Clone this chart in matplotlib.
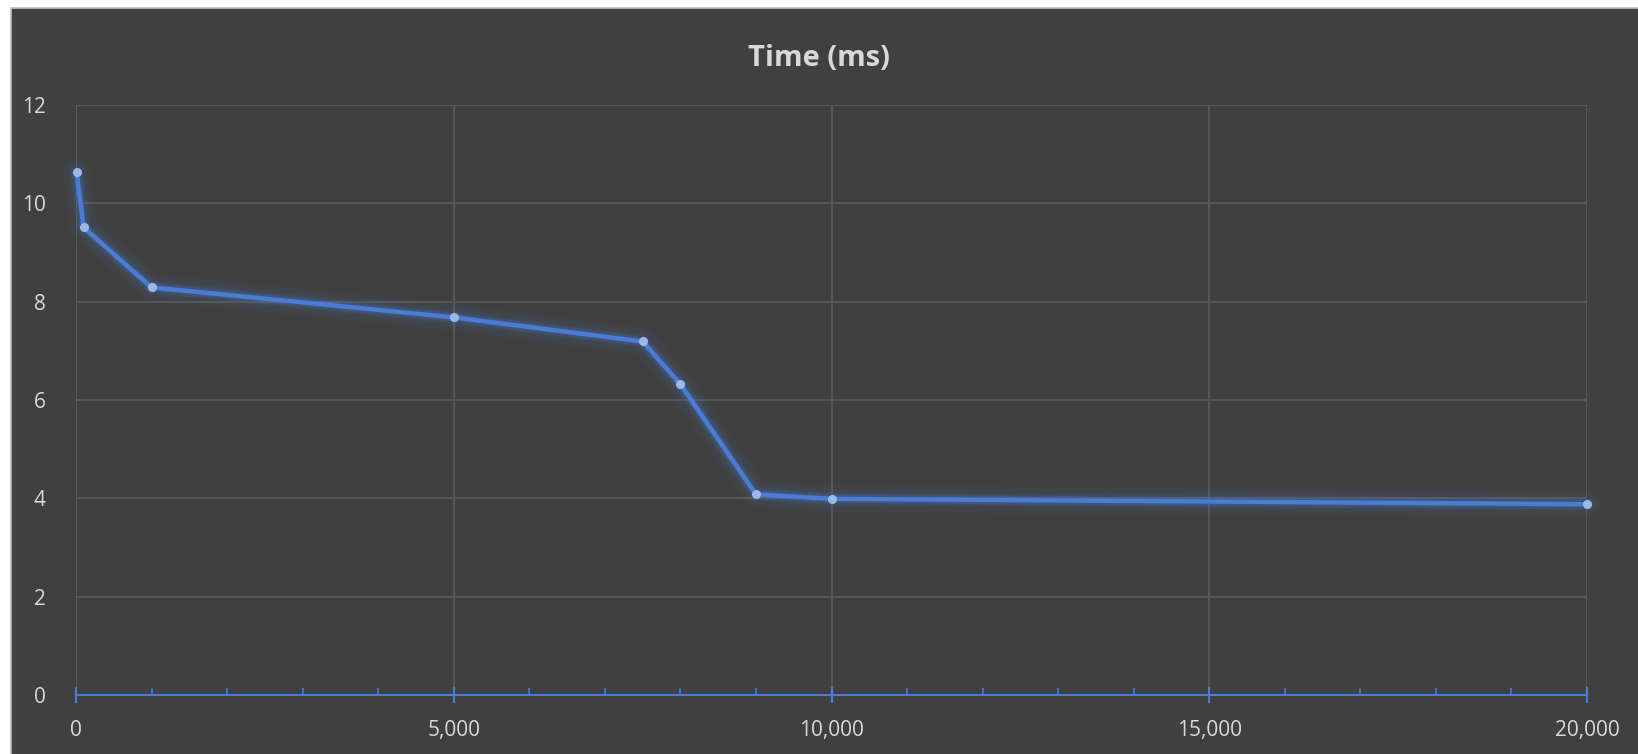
#!/usr/bin/env python3
"""Recreate the 'Time (ms)' line chart in a dark Excel-like style."""
import matplotlib
matplotlib.use("Agg")
import matplotlib.pyplot as plt
from matplotlib.patches import Rectangle
from matplotlib.ticker import FuncFormatter, MultipleLocator

# data
batch_sizes = [10, 100, 1000, 5000, 7500, 8000, 9000, 10000, 20000]
time_ms = [10.63, 9.51, 8.29, 7.68, 7.19, 6.32, 4.08, 3.99, 3.88]
title = "Time (ms)"

BG = "#404040"
GRID = "#595959"
TEXT = "#D9D9D9"
LINE = "#4A7BD5"
MARKER = "#9DB7E8"

W, H = 1638, 754


def main():
    plt.rcParams["font.family"] = ["Open Sans", "DejaVu Sans"]
    fig = plt.figure(figsize=(W / 100, H / 100), dpi=100, facecolor="white")

    # chart area with a thin light border, white margin top/left
    fig.patches.append(Rectangle((11 / W, -0.01), 1, 1.01 - 8 / H,
                                 transform=fig.transFigure, facecolor=BG,
                                 edgecolor="#BFBFBF", lw=1.2, zorder=-5))

    ax = fig.add_axes([76 / W, 1 - 695 / H, (1587 - 76) / W, (695 - 105) / H])
    ax.set_facecolor(BG)

    # soft glow under the line
    for lw, a in [(20, 0.04), (14, 0.07), (9, 0.12), (6, 0.18)]:
        ax.plot(batch_sizes, time_ms, color=LINE, lw=lw, alpha=a,
                solid_capstyle="round", solid_joinstyle="round", zorder=3,
                clip_on=False)
    ax.plot(batch_sizes, time_ms, color=LINE, lw=3.2, zorder=4,
            solid_joinstyle="round", clip_on=False)
    ax.plot(batch_sizes, time_ms, ls="none", marker="o", ms=5.5,
            mfc=MARKER, mec=MARKER, zorder=5, clip_on=False)

    ax.set_xlim(0, 20000)
    ax.set_ylim(0, 12)
    ax.xaxis.set_major_locator(MultipleLocator(5000))
    ax.xaxis.set_minor_locator(MultipleLocator(1000))
    ax.yaxis.set_major_locator(MultipleLocator(2))
    ax.xaxis.set_major_formatter(FuncFormatter(lambda v, p: f"{int(v):,}"))

    ax.grid(True, which="major", color=GRID, lw=1.3)
    ax.set_axisbelow(True)

    for side in ["top", "right", "left"]:
        ax.spines[side].set_visible(False)
    ax.spines["bottom"].set_color(LINE)
    ax.spines["bottom"].set_linewidth(1.5)

    ax.tick_params(axis="x", which="major", length=11.5, width=1.5,
                   direction="inout", color=LINE, pad=12,
                   labelsize=15, labelcolor=TEXT)
    ax.tick_params(axis="x", which="minor", length=5, width=1.2,
                   color=LINE, direction="in")
    ax.tick_params(axis="y", length=0, pad=22, labelsize=15, labelcolor=TEXT)

    fig.text(0.5, 1 - 58 / H, title, ha="center", va="center",
             fontsize=21, fontweight="bold", color=TEXT)

    fig.savefig("out.png", dpi=100, facecolor="white")


if __name__ == "__main__":
    main()
